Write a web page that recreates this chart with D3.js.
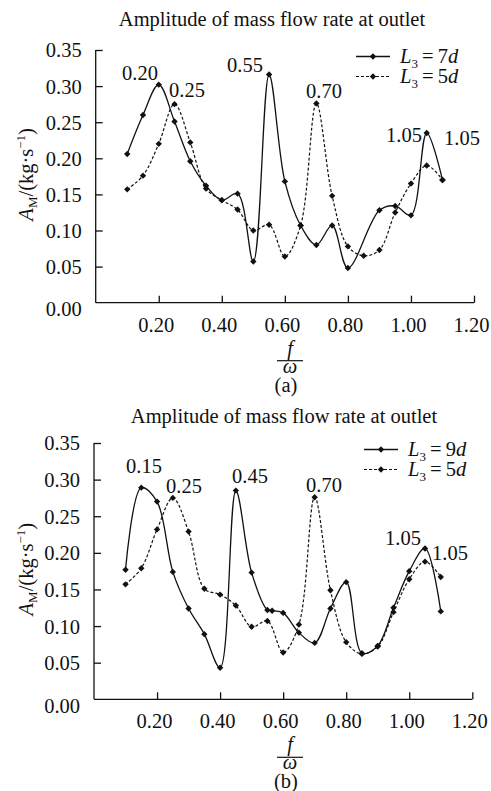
<!DOCTYPE html>
<html>
<head>
<meta charset="utf-8">
<script src="https://cdn.jsdelivr.net/npm/d3@7"></script>
<style>
body{margin:0;background:#fff;}
text{font-family:"Liberation Serif","Times New Roman",serif;fill:#111;}
</style>
</head>
<body>
<svg id="chart" width="491" height="791"></svg>
<script>
// shared tick values
var xTicks=[0.2,0.4,0.6,0.8,1.0,1.2];
var yTicks=[0,0.05,0.10,0.15,0.20,0.25,0.30,0.35];

// (a) L3=7d
var f7d=[0.10,0.15,0.20,0.25,0.30,0.35,0.40,0.45,0.50,0.55,0.60,0.65,0.70,0.75,0.80,0.90,0.95,1.00,1.05,1.10];
var a7d=[0.206,0.260,0.302,0.251,0.196,0.162,0.142,0.151,0.057,0.316,0.168,0.107,0.080,0.107,0.048,0.128,0.134,0.121,0.235,0.170];
// (a) L3=5d
var f5dA=[0.10,0.15,0.20,0.25,0.30,0.35,0.40,0.45,0.50,0.55,0.60,0.65,0.70,0.75,0.80,0.85,0.90,0.95,1.00,1.05,1.10];
var a5dA=[0.157,0.176,0.220,0.275,0.222,0.158,0.142,0.129,0.100,0.108,0.064,0.107,0.276,0.148,0.078,0.065,0.073,0.125,0.165,0.190,0.170];
// (b) L3=9d
var f9d=[0.10,0.15,0.20,0.25,0.30,0.35,0.40,0.45,0.50,0.55,0.565,0.60,0.65,0.70,0.75,0.80,0.85,0.90,0.95,1.00,1.05,1.10];
var a9d=[0.177,0.289,0.270,0.174,0.124,0.089,0.043,0.285,0.173,0.122,0.121,0.118,0.091,0.077,0.124,0.160,0.063,0.073,0.125,0.175,0.206,0.120];
// (b) L3=5d
var f5dB=[0.10,0.15,0.20,0.25,0.30,0.35,0.40,0.45,0.50,0.55,0.60,0.65,0.70,0.75,0.80,0.85,0.90,0.95,1.00,1.05,1.10];
var a5dB=[0.157,0.179,0.232,0.275,0.229,0.151,0.143,0.128,0.099,0.107,0.064,0.102,0.276,0.149,0.078,0.062,0.072,0.119,0.164,0.188,0.167];

// peak annotations
var peaksA=["0.20","0.25","0.55","0.70","1.05","1.05"];
var peaksB=["0.15","0.25","0.45","0.70","1.05","1.05"];

var svg=d3.select("#chart");
svg.append("rect").attr("width",491).attr("height",791).attr("fill","#fff");

function zip(xs,ys){ return xs.map(function(v,i){return {f:v,a:ys[i]};}); }

function panel(o){
	var g=svg.append("g");
	var x=d3.scaleLinear().domain([0,1.2]).range([o.left,o.right]);
	var y=d3.scaleLinear().domain([0,0.35]).range([o.bottom,o.top]);

	g.append("text").attr("x",o.titleX).attr("y",o.titleY).attr("text-anchor","middle")
		.style("font-size","20.5px").text("Amplitude of mass flow rate at outlet");

	var xa=g.append("g").attr("transform","translate(0,"+o.bottom+")")
		.call(d3.axisBottom(x).tickValues(xTicks).tickSizeInner(-7).tickSizeOuter(0).tickFormat(d3.format(".2f")));
	xa.select(".domain").attr("d","M"+o.left+",0H"+o.right);
	xa.selectAll("text").attr("dy",null).attr("y",29).attr("dx",-3).style("font-size","20.5px").attr("fill","#111");

	var ya=g.append("g").attr("transform","translate("+o.left+",0)")
		.call(d3.axisLeft(y).tickValues(yTicks).tickSizeInner(-7).tickSizeOuter(0).tickFormat(d3.format(".2f")));
	ya.select(".domain").attr("d","M0,"+o.top+"V"+o.bottom);
	ya.selectAll(".tick text").attr("x",-14).style("font-size","20.5px").attr("fill","#111")
		.attr("dy",function(d){return d==0?"0.62em":"0.34em";});
	ya.selectAll(".tick").filter(function(d){return d==0;}).select("line").remove();
	svg.selectAll(".domain, .tick line").attr("stroke","#111").attr("stroke-width",1.3);

	// y label
	var yl=g.append("text").attr("transform","translate(33,"+((o.top+o.bottom)/2-2)+") rotate(-90)")
		.attr("text-anchor","middle").style("font-size","20.5px");
	yl.append("tspan").style("font-style","italic").text("A");
	yl.append("tspan").style("font-size","13px").attr("dy",4).text("M");
	yl.append("tspan").attr("dy",-4).text("/(kg·s");
	yl.append("tspan").style("font-size","13px").attr("dy",-8).text("−1");
	yl.append("tspan").attr("dy",8).text(")");

	// x label as fraction
	var cx=290;
	g.append("text").attr("x",cx).attr("y",o.bottom+52).attr("text-anchor","middle")
		.style("font-size","20.5px").style("font-style","italic").text("f");
	g.append("line").attr("x1",cx-13).attr("x2",cx+13).attr("y1",o.bottom+58).attr("y2",o.bottom+58)
		.attr("stroke","#111").attr("stroke-width",1.2);
	g.append("text").attr("x",cx).attr("y",o.bottom+70).attr("text-anchor","middle")
		.style("font-size","20.5px").style("font-style","italic").text("ω");
	g.append("text").attr("x",cx-4).attr("y",o.bottom+89).attr("text-anchor","middle")
		.style("font-size","20.5px").text(o.letter);

	var line=d3.line().x(function(d){return x(d.f);}).y(function(d){return y(d.a);})
		.curve(d3.curveCatmullRom.alpha(0.5));
	var sym=d3.symbol().type(d3.symbolDiamond2).size(26);

	o.series.forEach(function(s,i){
		var data=zip(s.f,s.a);
		g.append("path").datum(data).attr("d",line).attr("fill","none").attr("stroke","#111")
			.attr("stroke-width",s.dashed?1.2:1.3).attr("stroke-dasharray",s.dashed?"3,2":null);
		g.selectAll(".m"+i).data(data).enter().append("path").attr("class","m"+i)
			.attr("d",sym).attr("transform",function(d){return "translate("+x(d.f)+","+y(d.a)+")";})
			.attr("fill","#111");

		// legend
		var ly=o.legY+i*20;
		g.append("line").attr("x1",o.legX).attr("x2",o.legX+34).attr("y1",ly).attr("y2",ly)
			.attr("stroke","#111").attr("stroke-width",s.dashed?1.2:1.3).attr("stroke-dasharray",s.dashed?"3,2":null);
		g.append("path").attr("d",sym).attr("transform","translate("+(o.legX+17)+","+ly+")").attr("fill","#111");
		var t=g.append("text").attr("x",o.legX+44).attr("y",ly+6).style("font-size","20.5px");
		t.append("tspan").style("font-style","italic").text("L");
		t.append("tspan").style("font-size","13px").attr("dy",5).text("3");
		t.append("tspan").attr("dy",-5).text("\u2009=\u2009"+s.n);
		t.append("tspan").style("font-style","italic").text("d");
	});

	o.peaks.forEach(function(p,i){
		g.append("text").attr("x",o.peakPos[i][0]).attr("y",o.peakPos[i][1]).attr("text-anchor","middle")
			.style("font-size","20.5px").text(p);
	});
}

panel({left:95.7,right:474,top:50,bottom:302.7,titleX:272,titleY:26,letter:"(a)",
	legX:356,legY:56.5,
	series:[{f:f7d,a:a7d,dashed:false,n:"7"},{f:f5dA,a:a5dA,dashed:true,n:"5"}],
	peaks:peaksA,peakPos:[[140,80],[187,97],[245,72],[324,98],[404,142],[462,145]]});

panel({left:94,right:472.3,top:443,bottom:699.3,titleX:284,titleY:423,letter:"(b)",
	legX:364,legY:449.5,
	series:[{f:f9d,a:a9d,dashed:false,n:"9"},{f:f5dB,a:a5dB,dashed:true,n:"5"}],
	peaks:peaksB,peakPos:[[144,473],[184,493],[250,483],[324,492],[403,545],[450,560]]});
</script>
</body>
</html>
